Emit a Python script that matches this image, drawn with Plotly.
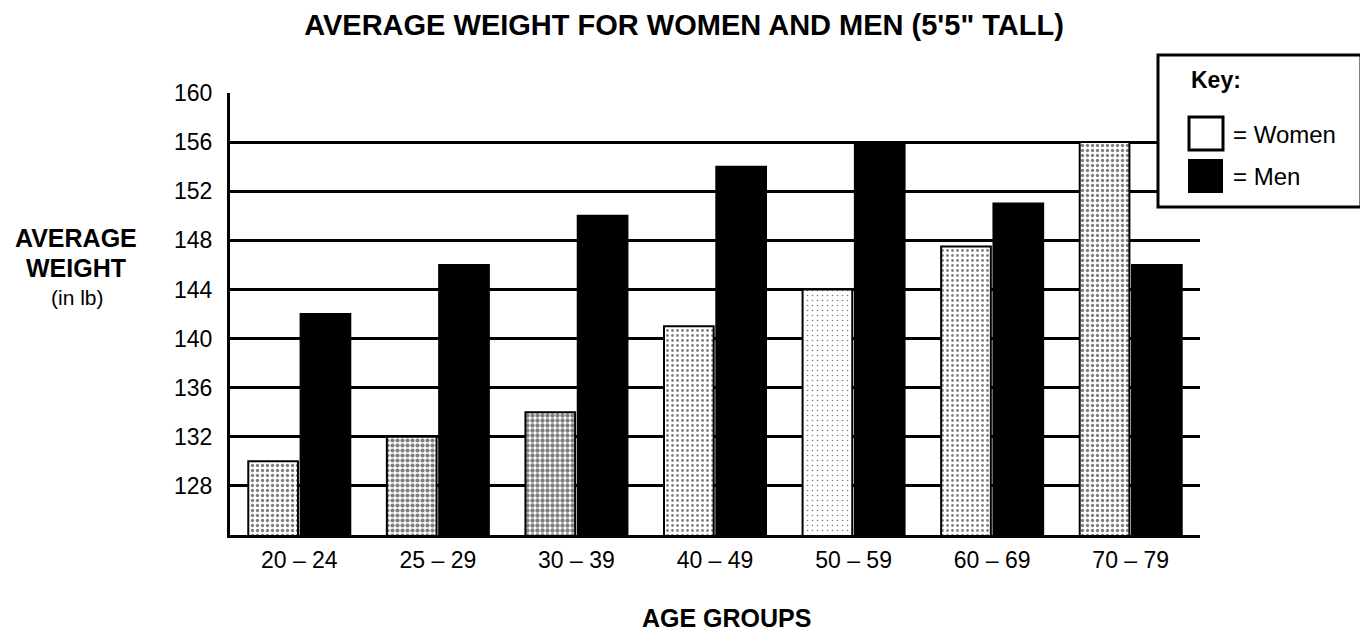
import plotly.graph_objects as go

# ---- data ----
age_groups = ["20 – 24", "25 – 29", "30 – 39", "40 – 49", "50 – 59", "60 – 69", "70 – 79"]
women = [130, 132, 134, 141, 144, 147.5, 156]
men = [142, 146, 150, 154, 156, 151, 146]
women_stipple = [0.35, 0.55, 0.6, 0.25, 0.08, 0.25, 0.35]
y_ticks = [128, 132, 136, 140, 144, 148, 152, 156, 160]
y_range = [124, 160]

OFF = 8  # page body margin
W, H = 1368 - OFF, 634 - OFF
L, T = 230 - OFF, 93 - OFF
R = W - (1200 - OFF)
B = H - (535 - OFF)
PW, PH = W - L - R, H - T - B


def px(x):  # page pixel -> paper
    return (x - OFF - L) / PW


def py(y):  # page pixel -> paper
    return (H - B - (y - OFF)) / PH


FONT = "Liberation Sans, Arial, sans-serif"

fig = go.Figure()
fig.add_trace(go.Bar(
    x=age_groups, y=women, name="Women",
    marker=dict(color="white", line=dict(color="black", width=2),
                pattern=dict(shape=".", fgcolor="black", bgcolor="white",
                             size=5, solidity=women_stipple)),
    showlegend=False,
))
fig.add_trace(go.Bar(
    x=age_groups, y=men, name="Men",
    marker=dict(color="black", line=dict(color="black", width=2)),
    showlegend=False,
))

fig.update_layout(
    width=W, height=H,
    margin=dict(l=L, r=R, t=T, b=B, pad=0),
    paper_bgcolor="white", plot_bgcolor="white",
    barmode="group", bargap=0.245, bargroupgap=0.05,
    font=dict(family=FONT, color="black"),
    title=dict(text="<b>AVERAGE WEIGHT FOR WOMEN AND MEN (5'5\" TALL)</b>",
               x=(684 - OFF) / W, xref="container", xanchor="center",
               y=1 - 7 / H, yref="container", yanchor="top",
               font=dict(size=29, family=FONT, color="black")),
)
fig.update_yaxes(range=y_range, tickvals=y_ticks, ticks="", ticklabelstandoff=10,
                 tickfont=dict(size=23, family=FONT, color="black"),
                 showgrid=True, gridcolor="black", gridwidth=3,
                 showline=True, linecolor="black", linewidth=3,
                 zeroline=False, fixedrange=True)
fig.update_xaxes(ticks="", ticklabelstandoff=2,
                 tickfont=dict(size=23, family=FONT, color="black"),
                 showline=True, linecolor="black", linewidth=3,
                 showgrid=False, fixedrange=True)

# axis titles
ann = [
    dict(text="<b>AVERAGE</b>", x=px(76), y=py(238), size=25),
    dict(text="<b>WEIGHT</b>", x=px(76), y=py(268), size=25),
    dict(text="(in lb)", x=px(77), y=py(297), size=21),
    dict(text="<b>AGE GROUPS</b>", x=px(726), y=py(618), size=25),
]
for a in ann:
    fig.add_annotation(text=a["text"], x=a["x"], y=a["y"], xref="paper", yref="paper",
                       showarrow=False, xanchor="center", yanchor="middle",
                       font=dict(size=a["size"], family=FONT, color="black"))

# key box (legend)
fig.add_shape(type="rect", xref="paper", yref="paper",
              x0=px(1158), x1=px(1361), y0=py(207), y1=py(55),
              fillcolor="white", line=dict(color="black", width=3), layer="above")
fig.add_shape(type="rect", xref="paper", yref="paper",
              x0=px(1189), x1=px(1223), y0=py(150), y1=py(117),
              fillcolor="white", line=dict(color="black", width=3), layer="above")
fig.add_shape(type="rect", xref="paper", yref="paper",
              x0=px(1189), x1=px(1222), y0=py(192), y1=py(160),
              fillcolor="black", line=dict(color="black", width=2), layer="above")
for text, x, y, size in [("<b>Key:</b>", 1189, 80, 23),
                         ("= Women", 1231, 134, 24),
                         ("= Men", 1231, 176, 24)]:
    fig.add_annotation(text=text, x=px(x), y=py(y), xref="paper", yref="paper",
                       showarrow=False, xanchor="left", yanchor="middle",
                       font=dict(size=size, family=FONT, color="black"))

fig.write_html("out.html")
